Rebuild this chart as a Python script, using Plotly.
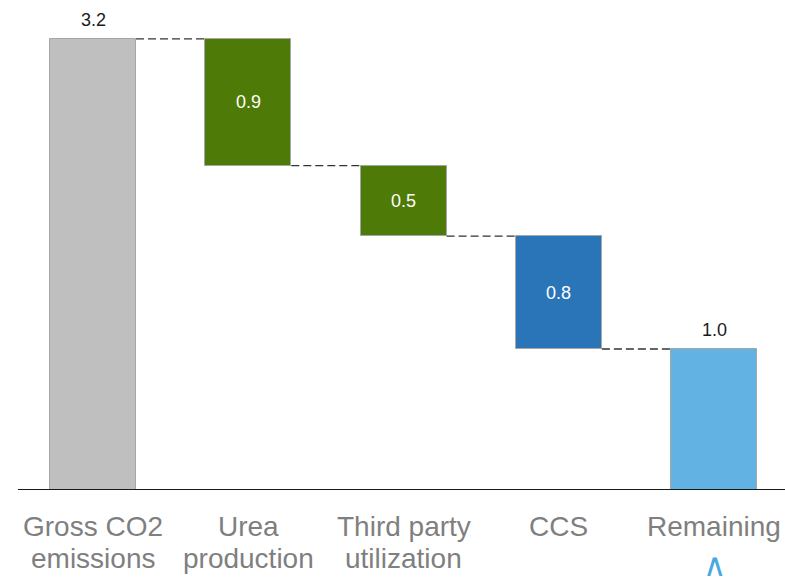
import plotly.graph_objects as go

categories = ["Gross CO2 emissions", "Urea production", "Third party utilization", "CCS", "Remaining"]
label_line1 = ["Gross CO2", "Urea", "Third party", "CCS", "Remaining"]
label_line2 = ["emissions", "production", "utilization", "", ""]
values = [3.2, 0.9, 0.5, 0.8, 1.0]
measures = ["absolute", "relative", "relative", "relative", "total"]
colors = ["#bfbfbf", "#4e7a07", "#4e7a07", "#2a75b8", "#62b3e3"]

# compute bases for a waterfall made of floating bars
bases, tops = [], []
running = 0.0
for v, m in zip(values, measures):
    if m == "absolute":
        running = v
        bases.append(0.0); tops.append(v)
    elif m == "relative":
        top = running
        running = running - v
        bases.append(running); tops.append(top)
    else:
        bases.append(0.0); tops.append(running)

xs = list(range(len(categories)))
bar_w = 0.554

fig = go.Figure()
fig.add_trace(go.Bar(
    x=xs, y=values, base=bases, width=bar_w,
    marker=dict(color=colors, line=dict(color="#a6a6a6", width=1)),
    hovertext=categories, showlegend=False,
))

# connectors
for i in range(len(xs) - 1):
    level = bases[i] if measures[i] == "relative" else tops[i]
    fig.add_trace(go.Scatter(
        x=[xs[i] + bar_w / 2, xs[i + 1] - bar_w / 2], y=[level, level],
        mode="lines", line=dict(color="#333333", width=1.3, dash="8px,4px"),
        showlegend=False, hoverinfo="skip",
    ))

annotations = []
for i, (v, m) in enumerate(zip(values, measures)):
    txt = f"{v:.1f}"
    if m == "relative":
        annotations.append(dict(x=xs[i], y=bases[i] + v / 2, text=txt, showarrow=False,
                                font=dict(size=18, color="#ffffff", family="Liberation Sans, Arial"),
                                yanchor="middle"))
    else:
        annotations.append(dict(x=xs[i], y=tops[i], text=txt, showarrow=False,
                                font=dict(size=18, color="#1a1a1a", family="Liberation Sans, Arial"),
                                yanchor="bottom", yshift=7))
    annotations.append(dict(x=xs[i], y=0, text=label_line1[i], showarrow=False,
                            font=dict(size=28, color="#7f7f7f", family="Liberation Sans, Arial"),
                            yanchor="top", yshift=-19))
    if label_line2[i]:
        annotations.append(dict(x=xs[i], y=0, text=label_line2[i], showarrow=False,
                                font=dict(size=28, color="#7f7f7f", family="Liberation Sans, Arial"),
                                yanchor="top", yshift=-51))

annotations.append(dict(x=xs[-1], y=0, yref="paper", text="∧", showarrow=False,
                        font=dict(size=32, color="#4aa8e0", weight=200,
                                  family="DejaVu Sans ExtraLight, DejaVu Sans"),
                        yanchor="bottom", yshift=-96))

fig.update_layout(
    width=785, height=583,
    margin=dict(l=18, r=0, t=0, b=93),
    plot_bgcolor="white", paper_bgcolor="white",
    xaxis=dict(range=[-0.483, 4.456], showticklabels=False, showgrid=False, zeroline=False,
               showline=False, ticks=""),
    yaxis=dict(range=[0, 3.475], visible=False, showgrid=False, zeroline=False),
    annotations=annotations,
    shapes=[dict(type="line", xref="paper", yref="y", x0=0, x1=1, y0=0, y1=0,
                 line=dict(color="#1a1a1a", width=2))],
    bargap=0,
)

fig.write_html("out.html")
